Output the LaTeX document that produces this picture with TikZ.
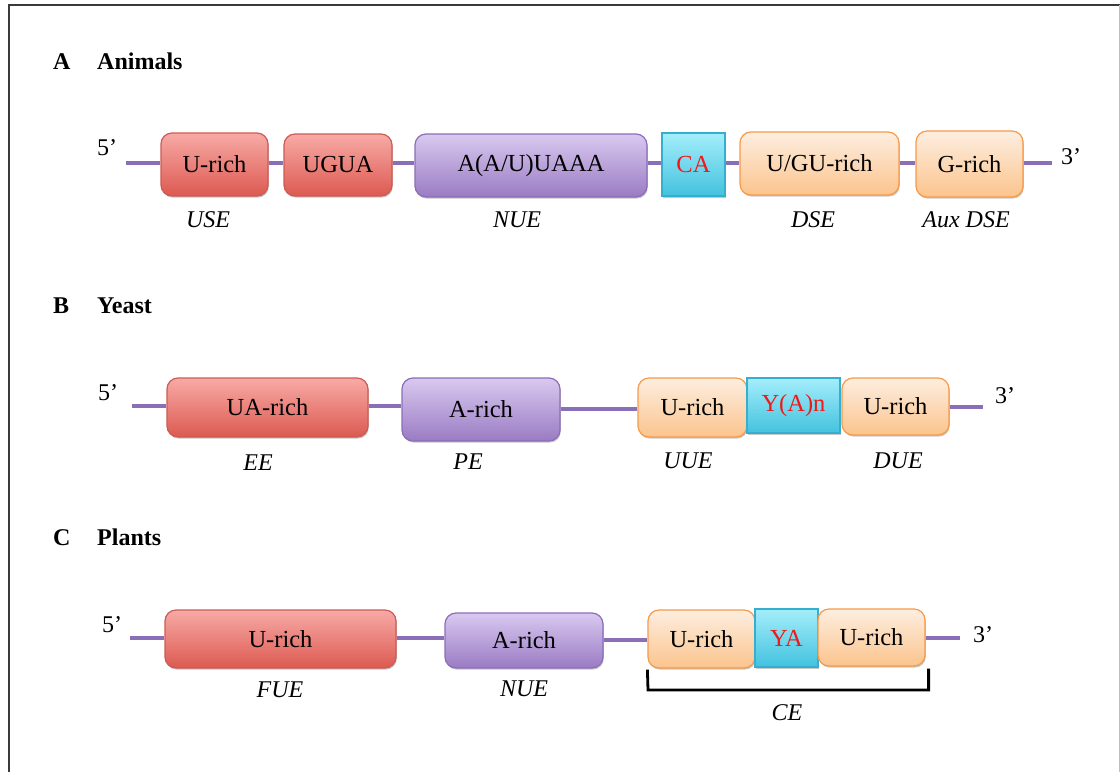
\documentclass[tikz,border=0pt]{standalone}
\usepackage{fontspec}
\setmainfont{Liberation Serif}
\usetikzlibrary{shadows}
\definecolor{redtop}{HTML}{F8AAA6}
\definecolor{redbot}{HTML}{DC5A51}
\definecolor{redline}{HTML}{CF5A54}
\definecolor{purtop}{HTML}{D9C9F0}
\definecolor{purbot}{HTML}{9A7BC3}
\definecolor{purline}{HTML}{8C6DB9}
\definecolor{orgtop}{HTML}{FDEEE0}
\definecolor{orgbot}{HTML}{FBC48D}
\definecolor{orgline}{HTML}{F79A4A}
\definecolor{cyntop}{HTML}{A4EEFB}
\definecolor{cynbot}{HTML}{43C2DE}
\definecolor{cynline}{HTML}{36AECF}
\definecolor{rnaline}{HTML}{8A6FB8}
\definecolor{framecol}{HTML}{3A3A3A}
\definecolor{redtext}{HTML}{F01818}
\tikzset{
  box/.style={rounded corners=11pt, line width=1.2pt, inner sep=0pt,
    font=\fontsize{24.5}{28}\selectfont,
    drop shadow={shadow xshift=0.8pt, shadow yshift=-1.6pt, opacity=0.22, fill=black}},
  redbox/.style={box, draw=redline, top color=redtop, bottom color=redbot},
  purbox/.style={box, draw=purline, top color=purtop, bottom color=purbot},
  orgbox/.style={box, draw=orgline, top color=orgtop, bottom color=orgbot},
  cynbox/.style={box, rounded corners=0pt, draw=cynline, top color=cyntop, bottom color=cynbot, text=redtext},
  rna/.style={draw=rnaline, line width=3.4pt},
  lbl/.style={font=\fontsize{24}{28}\selectfont\itshape, inner sep=0pt},
  prime/.style={font=\fontsize{24}{28}\selectfont, inner sep=0pt, anchor=base west},
  ttl/.style={font=\fontsize{24}{28}\selectfont\bfseries, inner sep=0pt, anchor=base west},
  bracketline/.style={draw=black, line width=2.8pt},
}
\begin{document}
\begin{tikzpicture}[x=1pt,y=-1pt]
\useasboundingbox (0,0) rectangle (1120,772);
\fill[white] (0,0) rectangle (1120,772);
% frame
\draw[draw=framecol, line width=2pt] (9,772) -- (9,5) -- (1120,5);
\draw[draw=black!25, line width=1pt] (1119,5) -- (1119,772);

% ---------------- A Animals ----------------
\node[ttl] (tA) at (53,69) {A};
\node[ttl] (tAn) at (97,69) {Animals};
\node[prime] (p5A) at (97,155) {5’};
\node[prime] (p3A) at (1061,164) {3’};
\coordinate (sA) at (126,163);
\coordinate (eA) at (1052,163);
\node[redbox, minimum width=107pt, minimum height=63pt] (a1) at (214.5,164.5) {U-rich};
\node[redbox, minimum width=108pt, minimum height=62pt] (a2) at (338,165) {UGUA};
\node[purbox, minimum width=232pt, minimum height=63pt] (a3) at (531,165.5) {A(A/U)UAAA};
\node[cynbox, minimum width=63pt, minimum height=63pt] (a4) at (693.5,164.5) {CA};
\node[orgbox, minimum width=159pt, minimum height=63pt] (a5) at (819.5,163.5) {U/GU-rich};
\node[orgbox, minimum width=107pt, minimum height=66pt] (a6) at (969.5,164) {G-rich};
\draw[rna] (sA) -- (a1.west |- sA);
\draw[rna] (a1.east |- sA) -- (a2.west |- sA);
\draw[rna] (a2.east |- sA) -- (a3.west |- sA);
\draw[rna] (a3.east |- sA) -- (a4.west |- sA);
\draw[rna] (a4.east |- sA) -- (a5.west |- sA);
\draw[rna] (a5.east |- sA) -- (a6.west |- sA);
\draw[rna] (a6.east |- eA) -- (eA);
\node[lbl] (lA1) at (208,220) {USE};
\node[lbl] (lA2) at (517,220) {NUE};
\node[lbl] (lA3) at (813,220) {DSE};
\node[lbl] (lA4) at (966,220) {Aux DSE};

% ---------------- B Yeast ----------------
\node[ttl] (tB) at (53,313) {B};
\node[ttl] (tBn) at (97,313) {Yeast};
\node[prime] (p5B) at (98,400) {5’};
\node[prime] (p3B) at (995,403) {3’};
\coordinate (sB) at (132,406);
\coordinate (mB) at (560,409);
\coordinate (eB) at (983,407);
\node[redbox, minimum width=201pt, minimum height=59pt] (b1) at (267.5,407.5) {UA-rich};
\node[purbox, minimum width=158pt, minimum height=63pt] (b2) at (481,409.5) {A-rich};
\node[orgbox, minimum width=109pt, minimum height=59pt] (b3) at (692.5,407.5) {U-rich};
\node[cynbox, minimum width=93pt, minimum height=55pt] (b4) at (793.5,405.5) {Y(A)n};
\node[orgbox, minimum width=107pt, minimum height=57pt] (b5) at (895.5,406.5) {U-rich};
\draw[rna] (sB) -- (b1.west |- sB);
\draw[rna] (b1.east |- sB) -- (b2.west |- sB);
\draw[rna] (b2.east |- mB) -- (b3.west |- mB);
\draw[rna] (b5.east |- eB) -- (eB);
\node[lbl] (lB1) at (258,463) {EE};
\node[lbl] (lB2) at (468,462) {PE};
\node[lbl] (lB3) at (688,461) {UUE};
\node[lbl] (lB4) at (898,461) {DUE};

% ---------------- C Plants ----------------
\node[ttl] (tC) at (53,545) {C};
\node[ttl] (tCn) at (97,545) {Plants};
\node[prime] (p5C) at (102,632) {5’};
\node[prime] (p3C) at (973,642) {3’};
\coordinate (sC) at (130,638);
\coordinate (mC) at (603,640);
\coordinate (eC) at (960,638);
\node[redbox, minimum width=231pt, minimum height=58pt] (c1) at (280.5,639) {U-rich};
\node[purbox, minimum width=158pt, minimum height=55pt] (c2) at (524,640.5) {A-rich};
\node[orgbox, minimum width=107pt, minimum height=58pt] (c3) at (701.5,639) {U-rich};
\node[cynbox, minimum width=63pt, minimum height=58pt] (c4) at (786.5,638) {YA};
\node[orgbox, minimum width=107pt, minimum height=57pt] (c5) at (871.5,637.5) {U-rich};
\draw[rna] (sC) -- (c1.west |- sC);
\draw[rna] (c1.east |- sC) -- (c2.west |- sC);
\draw[rna] (c2.east |- mC) -- (c3.west |- mC);
\draw[rna] (c5.east |- eC) -- (eC);
\draw[bracketline] ([yshift=-1pt]c3.south west) -- (648,690) -| ([xshift=3pt,yshift=-2pt]c5.south east);
\node[lbl] (lC1) at (280,690) {FUE};
\node[lbl] (lC2) at (524,689) {NUE};
\node[lbl] (lC3) at (787,713) {CE};
\end{tikzpicture}
\end{document}
